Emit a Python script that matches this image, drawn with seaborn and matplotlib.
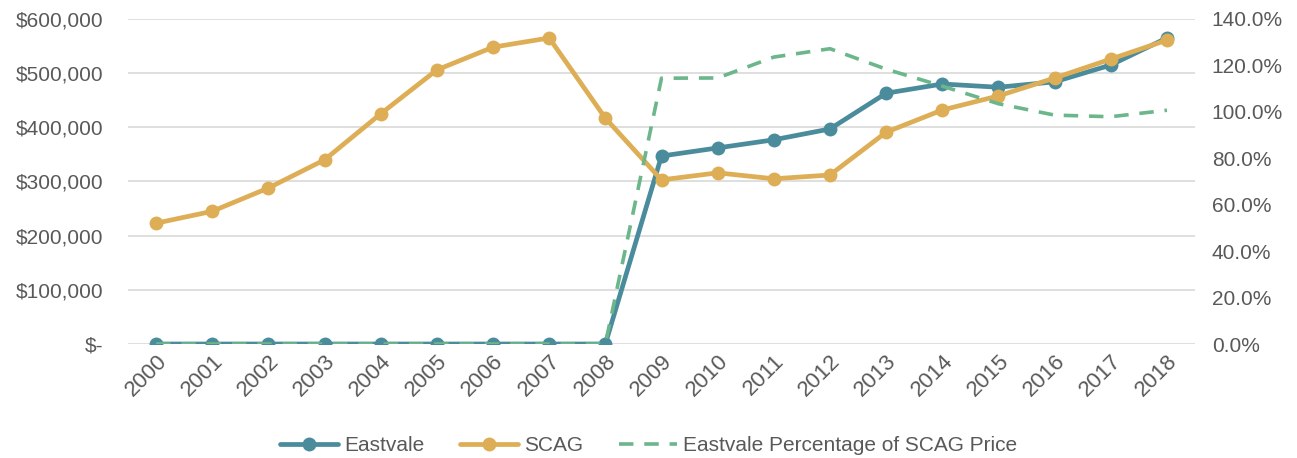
import pandas as pd
import seaborn as sns
import matplotlib.pyplot as plt
from matplotlib.ticker import FuncFormatter

years = list(range(2000, 2019))
eastvale = [0, 0, 0, 0, 0, 0, 0, 0, 0,
            347000, 362000, 377000, 397000, 463000, 480000, 474000, 484000, 515000, 565000]
scag = [223000, 245000, 288000, 340000, 425000, 506000, 548000, 565000, 417000,
        303000, 316000, 305000, 312000, 391000, 432000, 458000, 491000, 526000, 561000]
pct_of_scag = [0, 0, 0, 0, 0, 0, 0, 0, 0,
               114.5, 114.6, 123.6, 127.2, 118.4, 111.1, 103.5, 98.6, 97.9, 100.7]

df = pd.DataFrame({'Year': years, 'Eastvale': eastvale, 'SCAG': scag,
                   'Pct': pct_of_scag})

sns.set_theme(style='white')
plt.rcParams['font.family'] = ['Liberation Sans', 'DejaVu Sans']

TEAL = '#4a8c9c'
GOLD = '#ddae55'
GREEN = '#6bb68a'
GRAY = '#595959'

fig = plt.figure(figsize=(12.97, 4.58), dpi=100)
ax = fig.add_axes([128 / 1297, 1 - 344 / 458, (1195 - 128) / 1297, (344 - 19) / 458])
ax2 = ax.twinx()

sns.lineplot(data=df, x='Year', y='Pct', ax=ax2, color=GREEN, linewidth=2.6,
             dashes=False, linestyle=(0, (4, 3)), label='Eastvale Percentage of SCAG Price',
             legend=False, zorder=1)
sns.lineplot(data=df, x='Year', y='Eastvale', ax=ax, color=TEAL, linewidth=3.4,
             marker='o', markersize=10, markeredgewidth=0, label='Eastvale', legend=False)
sns.lineplot(data=df, x='Year', y='SCAG', ax=ax, color=GOLD, linewidth=3.4,
             marker='o', markersize=10, markeredgewidth=0, label='SCAG', legend=False)

# percentage line sits above the dollar lines like the original
ax.set_zorder(1)
ax.patch.set_visible(False)
ax2.set_zorder(2)

ax.set_xlim(1999.5, 2018.5)
ax.set_ylim(0, 600000)
ax2.set_ylim(0, 140)
ax.set_yticks(range(0, 600001, 100000))
ax2.set_yticks(range(0, 141, 20))
ax.set_xticks(years)

ax.yaxis.set_major_formatter(FuncFormatter(lambda v, p: '$-' if v == 0 else f'${v:,.0f}'))
ax2.yaxis.set_major_formatter(FuncFormatter(lambda v, p: f'{v:.1f}%'))

ax.grid(axis='y', color='#d9d9d9', linewidth=1.2)
ax.grid(axis='x', visible=False)
ax2.grid(False)
for a in (ax, ax2):
    for s in a.spines.values():
        s.set_visible(False)
    a.set_xlabel('')
    a.set_ylabel('')

ax.tick_params(axis='y', length=0, pad=18, labelsize=15, labelcolor=GRAY)
ax2.tick_params(axis='y', length=0, pad=12, labelsize=15, labelcolor=GRAY)
ax.tick_params(axis='x', length=0, pad=5, labelsize=16, labelcolor=GRAY)
plt.setp(ax.get_xticklabels(), rotation=45, ha='right', rotation_mode='anchor')

h1, l1 = ax.get_legend_handles_labels()
h2, l2 = ax2.get_legend_handles_labels()
leg = fig.legend(h1 + h2, l1 + l2, loc='lower center', bbox_to_anchor=(0.5, -0.035),
                 ncol=3, frameon=False, fontsize=15, handlelength=2.8,
                 handletextpad=0.3, columnspacing=1.7)
for t in leg.get_texts():
    t.set_color(GRAY)

fig.savefig('out.png', dpi=100)
